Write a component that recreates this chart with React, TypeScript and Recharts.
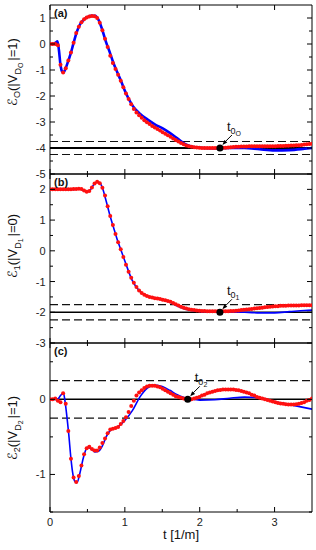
import React from "react";
import { ComposedChart, Line, XAxis, YAxis, ReferenceLine, ReferenceDot } from "recharts";

const FONT = "'Liberation Sans', Arial, 'DejaVu Sans', sans-serif";

// sample times of the red markers
const T_RED = [
  0, 0.035, 0.07, 0.105, 0.14, 0.175, 0.21, 0.245, 0.28, 0.315, 0.35, 0.385, 0.42, 0.455, 0.49, 0.525, 0.56, 0.595,
  0.63, 0.665, 0.7, 0.735, 0.77, 0.805, 0.84, 0.875, 0.91, 0.945, 0.98, 1.015, 1.05, 1.085, 1.12, 1.155, 1.19, 1.225,
  1.26, 1.295, 1.33, 1.365, 1.4, 1.435, 1.47, 1.505, 1.54, 1.575, 1.61, 1.645, 1.68, 1.715, 1.75, 1.785, 1.82, 1.855,
  1.89, 1.925, 1.96, 1.995, 2.03, 2.065, 2.1, 2.135, 2.17, 2.205, 2.24, 2.275, 2.31, 2.345, 2.38, 2.415, 2.45, 2.485,
  2.52, 2.555, 2.59, 2.625, 2.66, 2.695, 2.73, 2.765, 2.8, 2.835, 2.87, 2.905, 2.94, 2.975, 3.01, 3.045, 3.08, 3.115,
  3.15, 3.185, 3.22, 3.255, 3.29, 3.325, 3.36, 3.395, 3.43, 3.465, 3.5,
];

// sample times of the blue curves
const T_BLUE = [
  0, 0.04, 0.08, 0.1, 0.12, 0.14, 0.16, 0.18, 0.2, 0.22, 0.25, 0.28, 0.3, 0.33, 0.36, 0.4, 0.45, 0.5, 0.55, 0.6, 0.65,
  0.7, 0.75, 0.8, 0.85, 0.9, 0.95, 1.0, 1.1, 1.2, 1.3, 1.4, 1.5, 1.6, 1.7, 1.8, 1.9, 2.0, 2.2, 2.4, 2.6, 2.8, 3.0, 3.2,
  3.4, 3.5,
];

// panel (a)
const A_RED = [
  0, 0, 0, -0.05, -0.8, -1.1, -0.93, -0.63, -0.33, 0.05, 0.42, 0.66, 0.84, 0.95, 1.02, 1.06, 1.08, 1.07, 1.0, 0.82,
  0.53, 0.2, -0.12, -0.45, -0.73, -0.96, -1.18, -1.41, -1.66, -1.9, -2.12, -2.32, -2.5, -2.63, -2.74, -2.84, -2.93,
  -3.01, -3.08, -3.15, -3.21, -3.27, -3.33, -3.39, -3.45, -3.51, -3.57, -3.63, -3.69, -3.75, -3.81, -3.86, -3.9, -3.93,
  -3.95, -3.97, -3.98, -3.99, -4.0, -4.0, -4.0, -4.0, -4.0, -4.0, -4.0, -4.0, -3.99, -3.99, -3.98, -3.97, -3.96, -3.95,
  -3.95, -3.94, -3.94, -3.94, -3.93, -3.93, -3.93, -3.93, -3.93, -3.93, -3.93, -3.93, -3.93, -3.93, -3.93, -3.92,
  -3.92, -3.92, -3.91, -3.91, -3.9, -3.9, -3.89, -3.89, -3.88, -3.87, -3.86, -3.85, -3.84,
];
const A_BLUE = [
  0, 0, 0.06, 0.1, -0.25, -0.8, -1.05, -1.1, -1.0, -0.85, -0.6, -0.33, -0.12, 0.2, 0.48, 0.75, 0.93, 1.03, 1.08, 1.08,
  0.92, 0.53, 0.06, -0.33, -0.75, -1.1, -1.43, -1.8, -2.36, -2.68, -2.9, -3.09, -3.24, -3.42, -3.63, -3.84, -3.95,
  -3.99, -4.02, -4.0, -4.0, -4.05, -4.09, -4.08, -4.03, -4.0,
];

// panel (b)
const B_RED = [
  2.0, 2.0, 2.0, 2.0, 2.0, 2.0, 2.0, 2.0, 2.0, 2.01, 2.01, 2.02, 2.01, 1.96, 1.92, 1.95, 2.06, 2.19, 2.25, 2.2, 2.05,
  1.8, 1.45, 1.13, 0.84, 0.55, 0.28, 0.05, -0.2, -0.45, -0.68, -0.88, -1.04, -1.18, -1.29, -1.37, -1.43, -1.47, -1.5,
  -1.52, -1.54, -1.55, -1.57, -1.59, -1.61, -1.63, -1.66, -1.7, -1.74, -1.78, -1.82, -1.85, -1.88, -1.9, -1.92, -1.93,
  -1.94, -1.95, -1.96, -1.96, -1.97, -1.97, -1.97, -1.97, -1.97, -1.97, -1.97, -1.97, -1.97, -1.96, -1.96, -1.95,
  -1.94, -1.93, -1.92, -1.91, -1.9, -1.89, -1.88, -1.87, -1.86, -1.85, -1.84, -1.83, -1.82, -1.81, -1.8, -1.8, -1.79,
  -1.79, -1.79, -1.78, -1.78, -1.78, -1.78, -1.78, -1.77, -1.77, -1.77, -1.77, -1.77,
];
const B_BLUE = [
  2.0, 2.0, 2.0, 2.0, 2.0, 2.0, 2.0, 2.0, 2.0, 2.0, 2.0, 2.0, 2.0, 2.0, 2.01, 2.01, 1.96, 1.92, 2.02, 2.2, 2.24, 2.05,
  1.62, 1.16, 0.75, 0.35, 0.01, -0.33, -0.97, -1.32, -1.47, -1.53, -1.58, -1.67, -1.8, -1.89, -1.94, -1.97, -1.99,
  -2.0, -2.0, -2.02, -2.02, -1.98, -1.94, -1.93,
];

// panel (c)
const C_RED = [
  0, 0, 0.01, -0.02, -0.04, 0.08, -0.06, -0.42, -0.79, -1.04, -1.1, -1.02, -0.88, -0.73, -0.65, -0.63, -0.66, -0.68,
  -0.68, -0.64, -0.58, -0.52, -0.45, -0.4, -0.39, -0.38, -0.37, -0.33, -0.29, -0.24, -0.17, -0.09, -0.02, 0.05, 0.09,
  0.12, 0.15, 0.17, 0.18, 0.18, 0.18, 0.17, 0.16, 0.14, 0.12, 0.1, 0.08, 0.06, 0.04, 0.03, 0.02, 0.01, 0, 0, 0, 0.01,
  0.02, 0.03, 0.05, 0.06, 0.08, 0.09, 0.1, 0.11, 0.12, 0.125, 0.13, 0.13, 0.13, 0.13, 0.13, 0.125, 0.12, 0.11, 0.1,
  0.09, 0.08, 0.06, 0.05, 0.03, 0.02, 0.01, 0, -0.01, -0.02, -0.03, -0.04, -0.05, -0.055, -0.06, -0.065, -0.07, -0.07,
  -0.07, -0.065, -0.06, -0.05, -0.04, -0.02, -0.01, 0.01,
];
const C_BLUE = [
  0, 0, 0, 0, 0.02, 0.05, 0.07, 0.08, -0.02, -0.18, -0.46, -0.79, -0.96, -1.09, -1.11, -0.98, -0.76, -0.64, -0.66,
  -0.7, -0.69, -0.62, -0.5, -0.42, -0.39, -0.37, -0.33, -0.28, -0.15, 0.03, 0.15, 0.19, 0.17, 0.12, 0.06, 0.02, 0,
  -0.01, -0.005, 0.015, 0.03, 0.02, -0.03, -0.07, -0.11, -0.13,
];

const X_TICKS = [0, 0.5, 1, 1.5, 2, 2.5, 3];
const X_MAJOR = [0, 1, 2, 3];
const A_TICKS = [-5, -4.5, -4, -3.5, -3, -2.5, -2, -1.5, -1, -0.5, 0, 0.5, 1];
const A_MAJOR = [-5, -4, -3, -2, -1, 0, 1];
const B_TICKS = [-3, -2.5, -2, -1.5, -1, -0.5, 0, 0.5, 1, 1.5, 2];
const B_MAJOR = [-3, -2, -1, 0, 1, 2];
const C_TICKS = [-1.5, -1, -0.5, 0, 0.5];
const C_MAJOR = [-1, 0];

const toRows = (ts: number[], vs: number[]) => ts.map((t, i) => ({ t, v: vs[i] }));

type Side = "left" | "right" | "top" | "bottom";

const makeTick = (side: Side, majors: number[], labels: boolean) => (props: any) => {
  const { x, y, payload } = props;
  const v = payload.value;
  const major = majors.some((m) => Math.abs(m - v) < 1e-6);
  const len = major ? 5 : 3;
  let x2 = x;
  let y2 = y;
  if (side === "left") x2 = x + len;
  if (side === "right") x2 = x - len;
  if (side === "bottom") y2 = y - len;
  if (side === "top") y2 = y + len;
  return (
    <g>
      <line x1={x} y1={y} x2={x2} y2={y2} stroke="#000" strokeWidth={1} />
      {labels && major && side === "left" && (
        <text x={x - 4.5} y={y + 4} textAnchor="end" fontFamily={FONT} fontSize={11} fill="#222">
          {v}
        </text>
      )}
      {labels && major && side === "bottom" && (
        <text x={x} y={y + 14} textAnchor="middle" fontFamily={FONT} fontSize={11} fill="#222">
          {v}
        </text>
      )}
    </g>
  );
};

const makeMarker = (sub: string) => (p: any) => {
  const { cx, cy } = p;
  return (
    <g>
      <line x1={cx + 12} y1={cy - 13} x2={cx + 5.5} y2={cy - 6.5} stroke="#000" strokeWidth={1} />
      <polygon
        points={`${cx + 2.5},${cy - 3} ${cx + 7.4},${cy - 5.4} ${cx + 4.4},${cy - 8}`}
        fill="#000"
      />
      <circle cx={cx} cy={cy} r={3.5} fill="#000" />
      <text x={cx + 7} y={cy - 17} fontFamily={FONT} fontSize={13} fill="#111">
        t
        <tspan fontSize={9} dy={3}>0</tspan>
        <tspan fontSize={7} dy={2}>{sub}</tspan>
      </text>
    </g>
  );
};

interface PanelProps {
  top: number;
  height: number;
  bottom: number;
  blue: number[];
  red: number[];
  domain: [number, number];
  ticks: number[];
  majors: number[];
  level: number;
  levelWidth: number;
  blueWidth: number;
  markT: number;
  sub: string;
  showX: boolean;
}

function Panel(p: PanelProps) {
  const blueRows = toRows(T_BLUE, p.blue);
  const redRows = toRows(T_RED, p.red);
  return (
    <div style={{ position: "absolute", left: 0, top: p.top, width: 316, height: p.height }}>
      <ComposedChart width={316} height={p.height} margin={{ top: 4, right: 3, bottom: p.bottom, left: 0 }}>
        <XAxis
          xAxisId="b"
          dataKey="t"
          type="number"
          domain={[0, 3.5]}
          ticks={X_TICKS}
          interval={0}
          height={1}
          tickSize={0}
          tickMargin={0}
          tickLine={false}
          axisLine={{ stroke: "#000" }}
          tick={makeTick("bottom", X_MAJOR, p.showX)}
          allowDataOverflow
        />
        <XAxis
          xAxisId="t"
          orientation="top"
          dataKey="t"
          type="number"
          domain={[0, 3.5]}
          ticks={X_TICKS}
          interval={0}
          height={1}
          tickSize={0}
          tickMargin={0}
          tickLine={false}
          axisLine={{ stroke: "#000" }}
          tick={makeTick("top", X_MAJOR, false)}
          allowDataOverflow
        />
        <YAxis
          yAxisId="l"
          type="number"
          domain={p.domain}
          ticks={p.ticks}
          interval={0}
          width={50}
          tickSize={0}
          tickMargin={0}
          tickLine={false}
          axisLine={{ stroke: "#000" }}
          tick={makeTick("left", p.majors, true)}
          allowDataOverflow
        />
        <YAxis
          yAxisId="r"
          orientation="right"
          type="number"
          domain={p.domain}
          ticks={p.ticks}
          interval={0}
          width={1}
          tickSize={0}
          tickMargin={0}
          tickLine={false}
          axisLine={{ stroke: "#000" }}
          tick={makeTick("right", p.majors, false)}
          allowDataOverflow
        />
        <ReferenceLine xAxisId="b" yAxisId="l" y={p.level + 0.25} stroke="#111" strokeWidth={1.2} strokeDasharray="8 4" />
        <ReferenceLine xAxisId="b" yAxisId="l" y={p.level - 0.25} stroke="#111" strokeWidth={1.2} strokeDasharray="8 4" />
        <ReferenceLine xAxisId="b" yAxisId="l" y={p.level} stroke="#000" strokeWidth={p.levelWidth} />
        <Line
          xAxisId="b"
          yAxisId="l"
          data={blueRows}
          dataKey="v"
          type="monotone"
          stroke="#0000ff"
          strokeWidth={p.blueWidth}
          dot={false}
          isAnimationActive={false}
        />
        <Line
          xAxisId="b"
          yAxisId="l"
          data={redRows}
          dataKey="v"
          stroke="none"
          strokeWidth={0}
          dot={{ r: 2, fill: "#ff1010", stroke: "none" }}
          isAnimationActive={false}
        />
        <ReferenceDot xAxisId="b" yAxisId="l" x={p.markT} y={p.level} r={3.5} shape={makeMarker(p.sub)} />
      </ComposedChart>
    </div>
  );
}

function YLabel({ x, y, sub, vsub, val }: { x: number; y: number; sub: string; vsub: string; val: string }) {
  return (
    <text
      transform={`translate(${x},${y}) rotate(-90)`}
      textAnchor="middle"
      fontFamily={FONT}
      fontSize={13}
      fill="#111"
    >
      <tspan>ℰ</tspan>
      <tspan fontSize={9} dy={3}>{sub}</tspan>
      <tspan fontSize={13} dy={-3}>(|V</tspan>
      <tspan fontSize={9} dy={4}>D</tspan>
      <tspan fontSize={7} dy={2}>{vsub}</tspan>
      <tspan fontSize={13} dy={-6} dx={2}>|={val})</tspan>
    </text>
  );
}

export default function App() {
  return (
    <div style={{ position: "absolute", left: 0, top: 0, width: 316, height: 550, background: "#fff", fontFamily: FONT }}>
      <Panel
        top={0}
        height={180}
        bottom={5}
        blue={A_BLUE}
        red={A_RED}
        domain={[-5, 1.5]}
        ticks={A_TICKS}
        majors={A_MAJOR}
        level={-4}
        levelWidth={2.2}
        blueWidth={2.6}
        markT={2.27}
        sub="O"
        showX={false}
      />
      <Panel
        top={169}
        height={180}
        bottom={5}
        blue={B_BLUE}
        red={B_RED}
        domain={[-3, 2.5]}
        ticks={B_TICKS}
        majors={B_MAJOR}
        level={-2}
        levelWidth={1.5}
        blueWidth={1.6}
        markT={2.27}
        sub="1"
        showX={false}
      />
      <Panel
        top={338}
        height={212}
        bottom={37}
        blue={C_BLUE}
        red={C_RED}
        domain={[-1.5, 0.75]}
        ticks={C_TICKS}
        majors={C_MAJOR}
        level={0}
        levelWidth={1.5}
        blueWidth={1.6}
        markT={1.84}
        sub="2"
        showX={true}
      />
      <svg width={316} height={550} style={{ position: "absolute", left: 0, top: 0, pointerEvents: "none" }}>
        <text x={54} y={17} fontFamily={FONT} fontSize={11} fontWeight="bold" fill="#111">(a)</text>
        <text x={54} y={186} fontFamily={FONT} fontSize={11} fontWeight="bold" fill="#111">(b)</text>
        <text x={54} y={355} fontFamily={FONT} fontSize={11} fontWeight="bold" fill="#111">(c)</text>
        <YLabel x={17} y={72} sub="O" vsub="O" val="1" />
        <YLabel x={17} y={246} sub="1" vsub="1" val="0" />
        <YLabel x={17} y={428} sub="2" vsub="2" val="1" />
        <text x={181} y={539} textAnchor="middle" fontFamily={FONT} fontSize={13} fill="#111">t [1/m]</text>
      </svg>
    </div>
  );
}
